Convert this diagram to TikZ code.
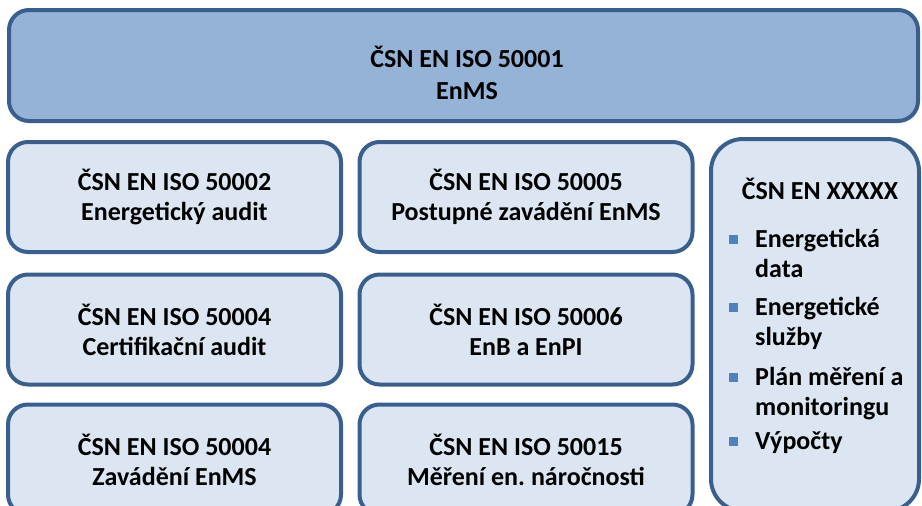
\documentclass[tikz,border=0pt]{standalone}
\usepackage{fontspec}
\setmainfont{Carlito}
\frenchspacing
\usetikzlibrary{positioning}
\definecolor{enmsline}{HTML}{3A5F8E}
\definecolor{enmstop}{HTML}{95B3D7}
\definecolor{enmsbox}{HTML}{DCE6F2}
\definecolor{enmsbullet}{HTML}{4F81BD}

\begin{document}
\begin{tikzpicture}[x=1pt, y=-1pt,
    stdbox/.style={draw=enmsline, line width=4pt, rounded corners=20pt, fill=enmsbox,
                   minimum width=333pt, minimum height=110pt, inner sep=0pt,
                   align=center, font=\fontsize{26}{30}\selectfont\bfseries},
    topbox/.style={stdbox, fill=enmstop, minimum width=909pt, minimum height=111pt},
    sidebox/.style={stdbox, rounded corners=32pt, minimum width=208pt, minimum height=372pt},
    bullet/.style={fill=enmsbullet, minimum size=9pt, inner sep=0pt},
    item/.style={align=left, inner sep=0pt, font=\fontsize{26}{30}\selectfont\bfseries},
]
\useasboundingbox (0,0) rectangle (922,506);
\clip (0,0) rectangle (922,506);

% Umbrella standard
\node[topbox] (enms) at (463.5, 65.5) {};
\node[item, align=center, font=\fontsize{26}{32}\selectfont\bfseries] (enmstext) at (467, 73)
  {ČSN EN ISO 50001\\EnMS};

% Left column
\node[stdbox] (s50002) at (174.5, 197)   {ČSN EN ISO 50002\\Energetický audit};
\node[stdbox] (s50004c) at (174.5, 329.5) {ČSN EN ISO 50004\\Certifikační audit};
\node[stdbox] (s50004z) at (174.5, 459.5) {ČSN EN ISO 50004\\Zavádění EnMS};

% Middle column
\node[stdbox] (s50005) at (526, 197)   {ČSN EN ISO 50005\\Postupné zavádění EnMS};
\node[stdbox] (s50006) at (526, 329.5) {ČSN EN ISO 50006\\EnB a EnPI};
\node[stdbox] (s50015) at (526, 459.5) {ČSN EN ISO 50015\\Měření en. náročnosti};

% Right column with topics
\node[sidebox] (xxxxx) at (815, 325) {};
\node[item, anchor=base] (xtitle) at (820, 199) {ČSN EN XXXXX};

\node[bullet] (b1) at (733, 239) {};
\node[item, anchor=base west] (i1) at (755, 277) {Energetická\\data};
\node[bullet] (b2) at (733, 307) {};
\node[item, anchor=base west] (i2) at (755, 345) {Energetické\\služby};
\node[bullet] (b3) at (733, 377) {};
\node[item, anchor=base west] (i3) at (755, 415) {Plán měření a\\monitoringu};
\node[bullet] (b4) at (733, 441) {};
\node[item, anchor=base west] (i4) at (755, 449) {Výpočty};

\end{tikzpicture}
\end{document}
